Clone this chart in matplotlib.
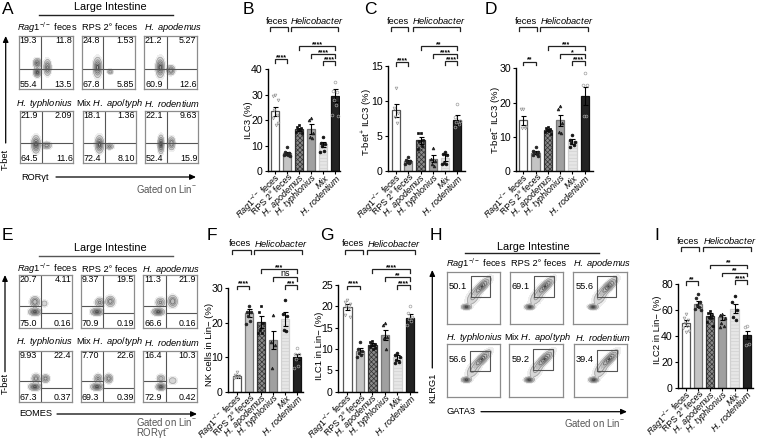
import numpy as np
import matplotlib
matplotlib.use("Agg")
import matplotlib.pyplot as plt
from matplotlib.transforms import ScaledTranslation

plt.rcParams.update({
    "font.family": "Liberation Sans", "mathtext.fontset": "custom",
    "mathtext.rm": "Liberation Sans", "mathtext.it": "Liberation Sans:italic",
    "mathtext.bf": "Liberation Sans:bold", "hatch.linewidth": 0.5,
})
W, H = 757, 442

# ---------- bar data ----------
bar_labels = [r"$\mathit{Rag1}^{-/-}$ feces", "RPS 2° feces", r"$\mathit{H.\ apodemus}$",
              r"$\mathit{H.\ typhlonius}$", r"$\mathit{Mix}$", r"$\mathit{H.\ rodentium}$"]
b_means = [23.5, 7, 16.5, 16.5, 10.5, 29.5]
b_errs = [1.8, 0.5, 0.6, 2, 1, 2.5]
b_pts = [[30, 29.5, 28, 24, 22, 21, 19, 18], [9.5, 7.5, 7, 6.8, 6.5, 6.2, 6],
         [18, 17.5, 17, 16.5, 16, 15.5, 15], [21, 20, 15, 13.5, 13],
         [13.5, 11, 10.5, 10, 8, 7.5], [35, 31.5, 31, 28, 26, 22, 21.5]]
c_means = [8.7, 1.4, 4.4, 1.8, 1.9, 7.3]
c_errs = [0.9, 0.2, 0.5, 0.5, 0.5, 0.7]
c_pts = [[11.9, 9, 8.3, 7.8, 6.9], [2, 1.6, 1.4, 1.3, 1.2, 1], [5.5, 5.4, 4.5, 4.3, 3.6, 3.2],
         [3.3, 1.8, 1.5, 1.1, 0.8], [2.8, 2.5, 2.3, 1.2, 1, 1.1], [9.6, 7.8, 7.2, 7, 6.8, 6.3]]
d_means = [14.8, 5.4, 12, 14.8, 8.7, 22]
d_errs = [1.3, 0.5, 0.4, 1.7, 0.7, 2.6]
d_pts = [[18, 18, 13, 12.7, 12.5], [7.2, 6, 5.7, 5.5, 5, 4.8, 4.5], [13, 12.7, 12.3, 12, 11.7, 11.4, 11],
         [19, 18, 14, 11.5, 11.3], [10.6, 9, 8.5, 8.2, 7.7, 7], [28.5, 25, 25, 16, 16]]
f_means = [4.5, 22.8, 20.3, 15, 21, 10]
f_errs = [0.4, 1.2, 1.8, 2.7, 2, 0.8]
f_pts = [[5.6, 4.8, 4.6, 4.4, 4.2, 4.1], [25, 23, 23, 22, 20.5, 19.5], [25, 23, 20, 18, 17, 17],
         [22.2, 14.5, 13.5, 7], [26.5, 22.5, 22, 18, 17.5], [12.7, 11, 10.8, 9.5, 7.5, 7]]
g_means = [19.7, 9.5, 11, 13.3, 8, 17.3]
g_errs = [0.7, 0.7, 0.3, 1.2, 0.5, 0.8]
g_pts = [[21.5, 21, 20.5, 20, 19.5, 18, 17.5], [11.5, 10, 9.5, 9, 8.5, 8],
         [11.8, 11.5, 11.2, 11, 10.8, 10.5, 10.3, 10], [16, 15.5, 12.8, 12.5, 10],
         [9, 8.6, 8, 7.5, 7, 6.7], [20, 18.5, 17.5, 17, 16.5, 15.5]]
i_means = [50, 64.5, 55.5, 54.5, 61, 40.5]
i_errs = [2.5, 2.5, 2, 2, 3.5, 3]
i_pts = [[57, 54, 52, 50, 48, 46, 44, 43], [72, 69, 66, 64, 62, 61, 60], [59, 58, 56, 55, 54, 51, 48],
         [57, 56, 54, 50, 48, 47], [71, 66, 60, 55, 52], [48, 47, 34, 33]]

bar_style = [
    dict(facecolor="white", edgecolor="#555555"),
    dict(facecolor="#c4c4c4", edgecolor="#777777"),
    dict(facecolor="#8a8a8a", edgecolor="#333333", hatch="xxxxxxx"),
    dict(facecolor="#a0a0a0", edgecolor="#777777"),
    dict(facecolor="#e6e6e6", edgecolor="#d0d0d0", hatch="-----"),
    dict(facecolor="#222222", edgecolor="#111111"),
]
pt_style = [
    dict(marker="v", mfc="none", mec="#999999"),
    dict(marker="o", mfc="#222222", mec="#222222"),
    dict(marker="s", mfc="#111111", mec="#111111"),
    dict(marker="^", mfc="#222222", mec="#222222"),
    dict(marker="o", mfc="#111111", mec="#111111"),
    dict(marker="o", mfc="none", mec="#a0a0a0"),
]
jitter_px = [0, -2.2, 2.2, -1.2, 1.2, -2.8, 2.8, 0.4]

fig = plt.figure(figsize=(W / 100, H / 100), dpi=100)
ov = fig.add_axes([0, 0, 1, 1], zorder=10)
ov.set_xlim(0, W); ov.set_ylim(H, 0); ov.axis("off"); ov.patch.set_alpha(0)


def px_axes(x0, y0, x1, y1, **kw):
    """axes from pixel box, y0 top, y1 bottom"""
    return fig.add_axes([x0 / W, 1 - y1 / H, (x1 - x0) / W, (y1 - y0) / H], **kw)


def T(x, y, s, size=6.7, ha="center", va="center", color="black", **kw):
    ov.text(x, y, s, fontsize=size, ha=ha, va=va, color=color, **kw)


def bracket(x0, x1, y, drop=4, lw=0.9, color="#222222"):
    ov.plot([x0, x0, x1, x1], [y + drop, y, y, y + drop], color=color, lw=lw, solid_joinstyle="miter")


def bar_panel(x_axis, x_end, y_top, y_zero, ymax, yticks, cx0, cx5, means, errs, pts, ylabel, ylab_xy,
              top_y, fec, hel, sigs):
    ax = px_axes(x_axis, y_top, x_end, y_zero)
    ax.patch.set_alpha(0)
    per = (cx5 - cx0) / 5
    ax.set_xlim((x_axis - cx0) / per, (x_end - cx0) / per)
    ax.set_ylim(0, ymax)
    xs = np.arange(6)
    for i in xs:
        ax.bar(i, means[i], width=0.68, linewidth=0.9, **bar_style[i])
        ax.errorbar(i, means[i], yerr=errs[i], color="black", lw=0.8, capsize=1.8, capthick=0.8, zorder=4)
        offs = [jitter_px[k % len(jitter_px)] / per for k in range(len(pts[i]))]
        ax.plot(i + np.array(offs), pts[i], ls="none", ms=2.0, mew=0.5, zorder=5, clip_on=False, **pt_style[i])
    for s in ("top", "right"):
        ax.spines[s].set_visible(False)
    for s in ("left", "bottom"):
        ax.spines[s].set_linewidth(1.0)
    ax.set_yticks(yticks)
    ax.tick_params(axis="y", labelsize=7.6, length=2.5, width=0.8, pad=1.2)
    ax.tick_params(axis="x", length=2.5, width=0.8, pad=0)
    ax.set_xticks(xs)
    ax.set_xticklabels(bar_labels, rotation=45, ha="right", va="center", rotation_mode="anchor", fontsize=6.4)
    off = ScaledTranslation(4 / 100, -1 / 100, fig.dpi_scale_trans)
    for lab in ax.get_xticklabels():
        lab.set_transform(lab.get_transform() + off)
    T(ylab_xy[0], ylab_xy[1], ylabel, size=6.8, rotation=90)
    # top group brackets
    T(sum(fec) / 2 - 1.8, top_y - 6, "feces", size=6.7)
    T(sum(hel) / 2 + 2.7, top_y - 6, r"$\mathit{Helicobacter}$", size=6.7)
    bracket(fec[0], fec[1], top_y)
    bracket(hel[0], hel[1], top_y)
    # significance brackets
    for (i, j, y, lab) in sigs:
        x0, x1 = cx0 + i * per, cx0 + j * per
        bracket(x0, x1, y, drop=3.5)
        if lab == "ns":
            T((x0 + x1) / 2, y - 3.5, lab, size=6.5)
        else:
            T((x0 + x1) / 2, y - 1.6, lab, size=5.0, fontweight="bold")


bar_panel(268, 340, 69, 171.3, 40, [0, 10, 20, 30, 40], 275.3, 335, b_means, b_errs, b_pts, "ILC3 (%)", (248.5, 120),
          27, (269.5, 287.5), (291, 338),
          [(0, 1, 59, "****"), (2, 5, 46, "****"), (3, 5, 54, "****"), (4, 5, 61.3, "****")])
bar_panel(388, 465, 66.3, 171.3, 15, [0, 5, 10, 15], 396, 457.3, c_means, c_errs, c_pts, r"T-bet$^{+}$ ILC3 (%)", (367, 122),
          27, (390.7, 408.3), (412.7, 460),
          [(0, 1, 62.3, "****"), (2, 5, 46, "**"), (3, 5, 54, "****"), (4, 5, 61.3, "****")])
bar_panel(516, 593, 68.3, 171.3, 30, [0, 10, 20, 30], 523.3, 584.7, d_means, d_errs, d_pts, r"T-bet$^{-}$ ILC3 (%)", (495, 120),
          27, (519, 536.7), (540.3, 588.3),
          [(0, 1, 61.7, "**"), (2, 5, 46, "***"), (3, 5, 54, "*"), (4, 5, 61.3, "****")])
bar_panel(228, 303, 288.3, 391.7, 30, [0, 10, 20, 30], 237, 297, f_means, f_errs, f_pts, "NK cells in Lin− (%)", (209.5, 344),
          249.5, (232.3, 250.7), (254.3, 302),
          [(0, 1, 285.7, "****"), (2, 5, 269, "***"), (3, 5, 277.3, "ns"), (4, 5, 285, "***")])
bar_panel(338, 417, 284.7, 391.7, 25, [0, 5, 10, 15, 20, 25], 347.3, 410, g_means, g_errs, g_pts, "ILC1 in Lin− (%)", (319, 346),
          249.5, (345.3, 363.3), (366.7, 414.7),
          [(0, 1, 285.7, "****"), (2, 5, 269, "****"), (3, 5, 277.3, "**"), (4, 5, 285, "****")])
bar_panel(678, 753, 284, 388, 80, [0, 20, 40, 60, 80], 685.7, 746.7, i_means, i_errs, i_pts, "ILC2 in Lin− (%)", (657, 330),
          247, (681, 699), (702.7, 751),
          [(0, 1, 281, "**"), (2, 5, 264.7, "**"), (3, 5, 272.7, "**"), (4, 5, 280, "****")])

# ---------- flow panels ----------
names_row1 = [r"$\mathit{Rag1}^{-/-}$ feces", "RPS 2° feces", r"$\mathit{H.\ apodemus}$"]
names_row2 = [r"$\mathit{H.\ typhlonius}$", r"Mix $\mathit{H.\ apo/typh}$", r"$\mathit{H.\ rodentium}$"]

a_quads = [["19.3", "11.8", "55.4", "13.5"], ["24.8", "1.53", "67.8", "5.85"], ["21.2", "5.27", "60.9", "12.6"],
           ["21.9", "2.09", "64.5", "11.6"], ["18.1", "1.36", "72.4", "8.10"], ["22.1", "9.63", "52.4", "15.9"]]
e_quads = [["20.7", "4.11", "75.0", "0.16"], ["9.37", "19.5", "70.9", "0.19"], ["11.3", "21.9", "66.6", "0.16"],
           ["9.93", "22.4", "67.3", "0.37"], ["7.70", "22.6", "69.3", "0.39"], ["16.4", "10.3", "72.9", "0.42"]]
h_gates = ["50.1", "69.1", "55.6", "56.6", "59.2", "39.4"]

# blobs: centre x, centre y, sd x, sd y, weight (axes fractions)
a_blobs = [[(.34, .32, .03, .04, 1), (.34, .49, .032, .04, .8), (.53, .41, .03, .065, .8)],
           [(.30, .41, .035, .08, 1), (.54, .33, .025, .022, .4)],
           [(.30, .41, .035, .08, 1), (.50, .36, .035, .04, .7)],
           [(.30, .36, .035, .07, 1), (.50, .34, .04, .03, .6)],
           [(.31, .36, .035, .07, 1), (.50, .32, .035, .025, .5)],
           [(.30, .36, .025, .075, 1), (.50, .38, .03, .055, .7)]]
e_blobs = [[(.30, .30, .05, .03, 1), (.30, .49, .04, .045, .7), (.48, .46, .03, .03, .2)],
           [(.30, .30, .05, .03, 1), (.35, .48, .04, .04, .5), (.55, .50, .04, .045, .6)],
           [(.28, .30, .05, .03, 1), (.32, .48, .04, .04, .5), (.55, .50, .04, .05, .7)],
           [(.30, .30, .05, .03, 1), (.32, .46, .035, .04, .6), (.50, .46, .035, .035, .6)],
           [(.30, .30, .05, .03, 1), (.32, .46, .035, .04, .5), (.52, .46, .035, .04, .6)],
           [(.33, .30, .04, .03, 1), (.33, .46, .035, .035, .4), (.55, .42, .04, .035, .2)]]
h_blobs = [(.37, .33, .04, .022, 1.0, 0), (.66, .72, .10, .035, .9, 45), (.50, .52, .09, .05, .25, 55)]


def density(blobs, X, Y):
    Z = np.zeros_like(X)
    for b in blobs:
        cx, cy, sx, sy, w = b[:5]
        ang = np.deg2rad(b[5]) if len(b) > 5 else 0
        u = (X - cx) * np.cos(ang) + (Y - cy) * np.sin(ang)
        v = -(X - cx) * np.sin(ang) + (Y - cy) * np.cos(ang)
        Z += w * np.exp(-0.5 * (u / sx) ** 2 - 0.5 * (v / sy) ** 2)
    return Z


def flow(box, blobs, edge="#8c8c8c"):
    ax = px_axes(*box)
    ax.set_xlim(0, 1); ax.set_ylim(0, 1)
    ax.set_xticks([]); ax.set_yticks([])
    for s in ax.spines.values():
        s.set_color(edge); s.set_linewidth(0.9)
    g = np.linspace(0, 1, 160)
    X, Y = np.meshgrid(g, g)
    Z = density(blobs, X, Y)
    ax.contourf(X, Y, Z, levels=[.012, .06, .3, 1.6], colors=["#eeeeee", "#d6d6d6", "#bdbdbd"])
    ax.contour(X, Y, Z, levels=[.06, .2, .42, .7, .88],
               colors=["#a8a8a8", "#8e8e8e", "#707070", "#585858", "#404040"], linewidths=0.6)
    return ax


a_boxes = [(19, 36, 72.7, 89.3), (81.7, 36, 134.7, 89.3), (144.3, 36, 197.3, 89.3),
           (20, 110.7, 73.3, 163.3), (83, 110.7, 136, 163.3), (145, 110.7, 198, 163.3)]
a_cross = [(.41, .38), (.41, .39), (.42, .39), (.41, .38), (.41, .38), (.41, .38)]
for n, box in enumerate(a_boxes):
    ax = flow(box, a_blobs[n])
    vx, hy = a_cross[n]
    ax.axvline(vx, color="#555555", lw=0.8); ax.axhline(hy, color="#555555", lw=0.8)
    x0, y0, x1, y1 = box
    q = a_quads[n]
    T(x0 + 0.5, y0 + 4.8, q[0], size=6.4, ha="left"); T(x1 - 1, y0 + 4.8, q[1], size=6.4, ha="right")
    T(x0 + 0.8, y1 - 4.6, q[2], size=6.4, ha="left"); T(x1 - 0.5, y1 - 4.6, q[3], size=6.4, ha="right")

e_boxes = [(19, 275, 72, 327.7), (81, 275, 134.3, 327.7), (143.3, 275, 196.7, 327.7),
           (19, 350.7, 72, 402.3), (81, 350.7, 134.3, 402.3), (143.3, 350.7, 196.7, 402.3)]
for n, box in enumerate(e_boxes):
    ax = flow(box, e_blobs[n])
    vx, hl, hr = .42, .41, .285
    ax.axvline(vx, color="#555555", lw=0.8)
    ax.plot([0, vx], [hl, hl], color="#555555", lw=0.8)
    ax.plot([vx, 1], [hr, hr], color="#555555", lw=0.8)
    x0, y0, x1, y1 = box
    q = e_quads[n]
    T(x0 + 1, y0 + 5, q[0], size=6.4, ha="left"); T(x1 - 0.5, y0 + 5, q[1], size=6.4, ha="right")
    T(x0 + 0.8, y1 - 4.6, q[2], size=6.4, ha="left"); T(x1 - 0.5, y1 - 4.6, q[3], size=6.4, ha="right")

h_boxes = [(446.7, 271.7, 500, 324.3), (510, 271.7, 563.3, 324.3), (573.3, 271.7, 626.7, 324.3),
           (446.7, 344.3, 500, 397.3), (509.5, 344.3, 562.7, 397.3), (574, 344.3, 627.3, 397.3)]
h_rect = [(.45, .51, .36, .41), (.45, .51, .37, .41), (.44, .51, .36, .41),
          (.44, .49, .37, .39), (.44, .515, .37, .40), (.44, .50, .36, .39)]
for n, box in enumerate(h_boxes):
    ax = flow(box, h_blobs)
    r = h_rect[n]
    ax.plot([r[0], r[0] + r[2], r[0] + r[2], r[0], r[0]], [r[1], r[1], r[1] + r[3], r[1] + r[3], r[1]],
            color="#555555", lw=0.8)
    T(box[0] + 2, (box[1] + 15), h_gates[n], size=6.7, ha="left")


def arrow(x0, y0, x1, y1):
    ov.annotate("", xy=(x1, y1), xytext=(x0, y0),
                arrowprops=dict(arrowstyle="-|>,head_width=0.16,head_length=0.35", lw=0.9, color="black",
                                shrinkA=0, shrinkB=0, mutation_scale=10))


# panel A texts
T(110, 6.7, "Large Intestine", size=7.8); ov.plot([39.3, 172.7], [14.7, 14.7], color="#222222", lw=1)
for x, s in zip([46.7, 109.3, 172.7], names_row1): T(x, 27.7, s)
for x, s in zip([44.7, 109.3, 171.7], names_row2): T(x, 103.3, s)
arrow(5.7, 143, 5.7, 36); T(5.3, 159, "T-bet", rotation=90)
T(35, 177, "RORγt"); arrow(56, 177, 196, 177)
T(166.7, 189.3, "Gated on Lin$^{-}$", color="#555555", size=6.9)
# panel E texts
T(110, 248.3, "Large Intestine", size=7.8); ov.plot([39.3, 172.7], [255.7, 255.7], color="#555555", lw=1)
for x, s in zip([46.7, 109.3, 170.7], names_row1): T(x, 269, s)
for x, s in zip([44.7, 109.3, 171.7], names_row2): T(x, 342, s)
arrow(5, 371.7, 5, 275); T(5, 383, "T-bet", rotation=90)
T(35.7, 414, "EOMES"); arrow(57, 414, 197, 414)
T(136, 421.7, "Gated on Lin$^{-}$", color="#555555", size=6.9, ha="left")
T(136, 432.7, "RORγt$^{-}$", color="#555555", size=6.9, ha="left")
# panel H texts
T(533, 246.7, "Large Intestine", size=7.8); ov.plot([465, 599], [253.3, 253.3], color="#222222", lw=1)
for x, s in zip([476, 538.7, 601.7], names_row1): T(x, 264, s)
for x, s in zip([474, 537.3, 602.7], names_row2): T(x, 337.3, s)
arrow(432.3, 368, 432.3, 270); T(432.3, 388, "KLRG1", rotation=90)
T(460.7, 411.7, "GATA3"); arrow(481, 411.7, 627, 411.7)
T(594, 423, "Gated on Lin$^{-}$", color="#555555", size=6.9)

# panel letters
for s, x, y in [("A", 7.5, 9), ("B", 248, 9), ("C", 370, 9), ("D", 491, 9), ("E", 7, 235), ("F", 211.7, 235),
                ("G", 326.7, 235), ("H", 436, 235), ("I", 657, 235)]:
    T(x, y, s, size=12.5)

fig.savefig("out.png", dpi=100)
